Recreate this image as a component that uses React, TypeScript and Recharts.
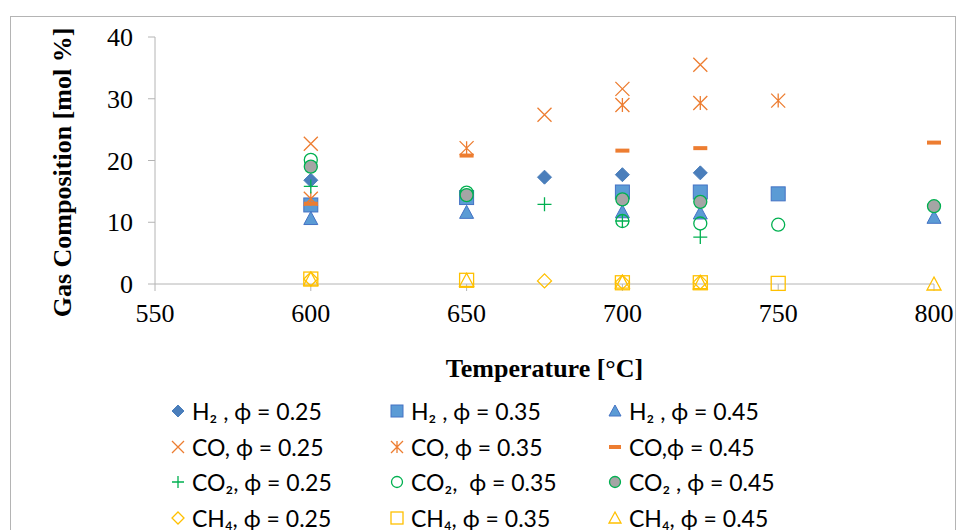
import { ScatterChart, Scatter, XAxis, YAxis, Label } from 'recharts'

// temperatures [°C] measured for each equivalence ratio
const T_025 = [600, 675, 700, 725]
const T_035 = [600, 650, 700, 725, 750]
const T_045 = [600, 650, 700, 725, 800]

// gas composition [mol %]
const H2_025 = [16.8, 17.3, 17.7, 18.0]
const H2_035 = [12.8, 14.0, 14.9, 14.9, 14.6]
const H2_045 = [10.6, 11.6, 11.7, 11.5, 10.8]
const CO_025 = [22.7, 27.4, 31.6, 35.5]
const CO_035 = [13.8, 22.0, 29.0, 29.3, 29.7]
const CO_045 = [13.0, 20.8, 21.6, 22.0, 22.9]
const CO2_025 = [15.8, 12.9, 10.2, 7.6]
const CO2_035 = [20.1, 14.8, 10.2, 9.8, 9.6]
const CO2_045 = [19.0, 14.4, 13.7, 13.3, 12.6]
const CH4_025 = [0.8, 0.5, 0.3, 0.3]
const CH4_035 = [0.8, 0.6, 0.2, 0.2, 0.1]
const CH4_045 = [0.8, 0.6, 0.3, 0.2, 0.0]

const X_TICKS = [550, 600, 650, 700, 750, 800]
const Y_TICKS = [0, 10, 20, 30, 40]

const BLUE_DARK = '#4a7ebb'
const BLUE = '#5b9bd5'
const BLUE_EDGE = '#4472c4'
const ORANGE = '#ed7d31'
const GREEN = '#00b050'
const GRAY = '#a5a5a5'
const GOLD = '#ffc000'
const AXIS = '#b4b4b4'

type Kind =
  | 'diamond'
  | 'square'
  | 'triangle'
  | 'cross'
  | 'star'
  | 'dash'
  | 'plus'
  | 'ring'
  | 'dot'
  | 'diamondOpen'
  | 'squareOpen'
  | 'triangleOpen'

const SERIES: { name: string; temps: number[]; values: number[]; kind: Kind }[] = [
  { name: 'H₂ , ϕ = 0.25', temps: T_025, values: H2_025, kind: 'diamond' },
  { name: 'H₂ , ϕ = 0.35', temps: T_035, values: H2_035, kind: 'square' },
  { name: 'H₂ , ϕ = 0.45', temps: T_045, values: H2_045, kind: 'triangle' },
  { name: 'CO, ϕ = 0.25', temps: T_025, values: CO_025, kind: 'cross' },
  { name: 'CO, ϕ = 0.35', temps: T_035, values: CO_035, kind: 'star' },
  { name: 'CO,ϕ = 0.45', temps: T_045, values: CO_045, kind: 'dash' },
  { name: 'CO₂, ϕ = 0.25', temps: T_025, values: CO2_025, kind: 'plus' },
  { name: 'CO₂,  ϕ = 0.35', temps: T_035, values: CO2_035, kind: 'ring' },
  { name: 'CO₂ , ϕ = 0.45', temps: T_045, values: CO2_045, kind: 'dot' },
  { name: 'CH₄, ϕ = 0.25', temps: T_025, values: CH4_025, kind: 'diamondOpen' },
  { name: 'CH₄, ϕ = 0.35', temps: T_035, values: CH4_035, kind: 'squareOpen' },
  { name: 'CH₄, ϕ = 0.45', temps: T_045, values: CH4_045, kind: 'triangleOpen' },
]

function Marker({ kind, cx, cy, r = 7 }: { kind: Kind; cx: number; cy: number; r?: number }) {
  const diamond = `${cx},${cy - r} ${cx + r},${cy} ${cx},${cy + r} ${cx - r},${cy}`
  const tri = `${cx},${cy - r} ${cx + r},${cy + r - 1} ${cx - r},${cy + r - 1}`
  switch (kind) {
    case 'diamond':
      return <polygon points={diamond} fill={BLUE_DARK} stroke={BLUE_DARK} />
    case 'square':
      return <rect x={cx - r} y={cy - r} width={2 * r} height={2 * r} fill={BLUE} stroke={BLUE_EDGE} />
    case 'triangle':
      return <polygon points={tri} fill={BLUE} stroke={BLUE_EDGE} />
    case 'cross':
      return (
        <path
          d={`M${cx - r},${cy - r}L${cx + r},${cy + r}M${cx - r},${cy + r}L${cx + r},${cy - r}`}
          stroke={ORANGE}
          strokeWidth={1.3}
        />
      )
    case 'star':
      return (
        <path
          d={`M${cx - r},${cy - r}L${cx + r},${cy + r}M${cx - r},${cy + r}L${cx + r},${cy - r}M${cx},${cy - r}L${cx},${cy + r}`}
          stroke={ORANGE}
          strokeWidth={1.3}
        />
      )
    case 'dash':
      return <rect x={cx - r} y={cy - 2} width={2 * r} height={4} fill={ORANGE} />
    case 'plus':
      return (
        <path
          d={`M${cx - r},${cy}L${cx + r},${cy}M${cx},${cy - r}L${cx},${cy + r}`}
          stroke={GREEN}
          strokeWidth={1.3}
        />
      )
    case 'ring':
      return <circle cx={cx} cy={cy} r={r - 0.5} fill="none" stroke={GREEN} strokeWidth={1.3} />
    case 'dot':
      return <circle cx={cx} cy={cy} r={r - 0.5} fill={GRAY} stroke={GREEN} strokeWidth={1.3} />
    case 'diamondOpen':
      return <polygon points={diamond} fill="none" stroke={GOLD} strokeWidth={1.3} />
    case 'squareOpen':
      return (
        <rect x={cx - r} y={cy - r} width={2 * r} height={2 * r} fill="none" stroke={GOLD} strokeWidth={1.3} />
      )
    case 'triangleOpen':
      return <polygon points={tri} fill="none" stroke={GOLD} strokeWidth={1.3} />
  }
  return null
}

function YTitle(props: any) {
  const { viewBox } = props
  const x = viewBox.x + 62
  const y = viewBox.y + viewBox.height / 2 + 12
  return (
    <text
      x={x}
      y={y}
      transform={`rotate(-90, ${x}, ${y})`}
      textAnchor="middle"
      dominantBaseline="central"
      fontFamily="'Liberation Serif', serif"
      fontWeight="bold"
      fontSize={26}
      fill="#000"
    >
      Gas Composition [mol %]
    </text>
  )
}

const tickStyle = { fill: '#000', fontSize: 26, fontFamily: "'Liberation Serif', serif" }

export default function App() {
  return (
    <div style={{ position: 'absolute', left: 0, top: 0, width: 957, height: 530, overflow: 'hidden', background: '#fff' }}>
      <div
        style={{
          position: 'absolute',
          left: 10,
          top: 16,
          width: 944,
          height: 600,
          border: `1px solid ${AXIS}`,
        }}
      />
      <ScatterChart
        width={957}
        height={530}
        margin={{ top: 37, right: 23, bottom: 151, left: 0 }}
        style={{ position: 'absolute', left: 0, top: 0 }}
      >
        <XAxis
          type="number"
          dataKey="x"
          domain={[550, 800]}
          ticks={X_TICKS}
          tick={tickStyle}
          axisLine={{ stroke: AXIS }}
          tickLine={{ stroke: AXIS }}
          tickSize={7}
          tickMargin={13}
          height={95}
        >
          <Label
            value="Temperature [°C]"
            position="insideBottom"
            offset={2}
            style={{ fill: '#000', fontSize: 26, fontWeight: 'bold', fontFamily: "'Liberation Serif', serif" }}
          />
        </XAxis>
        <YAxis
          type="number"
          dataKey="y"
          domain={[0, 40]}
          ticks={Y_TICKS}
          tick={tickStyle}
          axisLine={{ stroke: AXIS }}
          tickLine={{ stroke: AXIS }}
          tickSize={7}
          tickMargin={15}
          width={155}
        >
          <Label content={<YTitle />} />
        </YAxis>
        {SERIES.map((s) => (
          <Scatter
            key={s.name}
            name={s.name}
            data={s.temps.map((t, i) => ({ x: t, y: s.values[i] }))}
            isAnimationActive={false}
            shape={(p: any) => <Marker kind={s.kind} cx={p.cx} cy={p.cy} />}
          />
        ))}
      </ScatterChart>
      <div
        style={{
          position: 'absolute',
          left: 168,
          top: 393,
          display: 'grid',
          gridTemplateColumns: '219px 218px 220px',
          rowGap: 0,
          fontFamily: 'Lato, sans-serif',
          fontSize: 23,
          color: '#000',
        }}
      >
        {SERIES.map((s) => (
          <div key={s.name} style={{ display: 'flex', alignItems: 'center', height: 35.7, whiteSpace: 'pre' }}>
            <svg width={20} height={20} style={{ marginRight: 4 }}>
              <Marker kind={s.kind} cx={10} cy={10} r={6} />
            </svg>
            <span>{s.name}</span>
          </div>
        ))}
      </div>
    </div>
  )
}
